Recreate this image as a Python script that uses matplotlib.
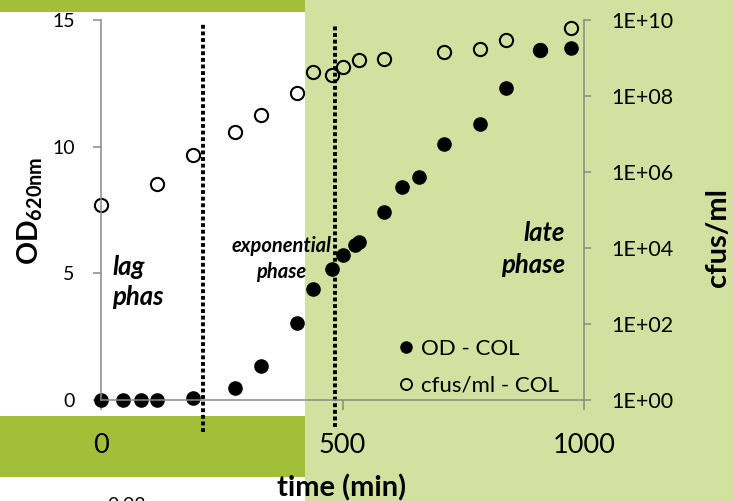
import numpy as np
import matplotlib
matplotlib.use("Agg")
import matplotlib.pyplot as plt
from matplotlib.patches import Rectangle
from matplotlib.lines import Line2D
from matplotlib.ticker import FuncFormatter, NullLocator

# ---- data ----
time_od = [0, 45, 83, 116, 190, 277, 331, 405, 438, 479, 500, 525, 535, 585, 624, 659, 711, 785, 839, 909, 973]
od_col = [0, 0, 0, 0, 0.08, 0.47, 1.34, 3.04, 4.38, 5.17, 5.72, 6.1, 6.22, 7.42, 8.4, 8.8, 10.1, 10.9, 12.3, 13.8, 13.9]

time_cfu = [0, 116, 190, 277, 331, 405, 438, 479, 500, 535, 585, 711, 785, 839, 909, 973]
cfu_col = [1.35e5, 4.8e5, 2.8e6, 1.1e7, 3.2e7, 1.2e8, 4.3e8, 3.5e8, 5.8e8, 8.9e8,
           9.3e8, 1.45e9, 1.7e9, 3.0e9, 1.6e9, 6.2e9]

phase_bounds = [211, 485]
x_ticks = [0, 500, 1000]
od_ticks = [0, 5, 10, 15]
cfu_ticks = [1e0, 1e2, 1e4, 1e6, 1e8, 1e10]
legend_labels = ["OD - COL", "cfus/ml - COL"]

plt.rcParams['font.family'] = ['Lato', 'DejaVu Sans']
plt.rcParams['mathtext.fontset'] = 'custom'
plt.rcParams['mathtext.rm'] = 'Lato'
plt.rcParams['mathtext.bf'] = 'Lato:bold'

W, H = 733, 501
fig = plt.figure(figsize=(W / 100, H / 100), dpi=100)


def fx(x):
    return x / W


def fy(y):
    return 1 - y / H


DARK = '#A3BF39'
LIGHT = '#D2E0A0'
GREY = '#898989'

fig.patches.extend([
    Rectangle((fx(305), 0), 1 - fx(305), 1, transform=fig.transFigure,
              facecolor=LIGHT, edgecolor='none', zorder=-10),
    Rectangle((0, fy(12)), fx(305), 12 / H, transform=fig.transFigure,
              facecolor=DARK, edgecolor='none', zorder=-10),
    Rectangle((0, fy(477)), fx(305), (477 - 416) / H, transform=fig.transFigure,
              facecolor=DARK, edgecolor='none', zorder=-10),
])

ax = fig.add_axes([fx(101), fy(400), fx(584) - fx(101), fy(20) - fy(400)])
ax2 = ax.twinx()
ax.patch.set_visible(False)
ax2.patch.set_visible(False)
ax.set_zorder(ax2.get_zorder() + 1)

# cfus on right log axis
ax2.plot(time_cfu, cfu_col, ls='none', marker='o', markersize=9.5,
         markerfacecolor='none', markeredgecolor='black', markeredgewidth=1.5, clip_on=False)
ax2.set_yscale('log')
ax2.set_ylim(1, 1e10)
ax2.set_yticks(cfu_ticks)
ax2.yaxis.set_minor_locator(NullLocator())
ax2.yaxis.set_major_formatter(FuncFormatter(lambda v, p: f"1E+{int(round(np.log10(v))):02d}"))

# OD on left axis
ax.plot(time_od, od_col, ls='none', marker='o', markersize=9.5,
        color='black', clip_on=False)
ax.set_xlim(0, 1000)
ax.set_ylim(0, 15)
ax.set_xticks(x_ticks)
ax.set_yticks(od_ticks)

for xb, (y0, y1) in zip(phase_bounds, [(-1.26, 14.9), (-1.07, 14.8)]):
    ax.plot([xb, xb], [y0, y1], color='black', lw=2.8, ls=(0, (1, 0.7)),
            dash_capstyle='butt', clip_on=False, zorder=2)

for s in ['top', 'right']:
    ax.spines[s].set_visible(False)
for s in ['left', 'bottom']:
    ax.spines[s].set_color(GREY)
    ax.spines[s].set_linewidth(1.1)
for s in ['top', 'left', 'bottom']:
    ax2.spines[s].set_visible(False)
ax2.spines['right'].set_color(GREY)
ax2.spines['right'].set_linewidth(1.1)

ax.tick_params(axis='x', direction='out', length=7, width=1.1, color=GREY,
               pad=16.5, labelsize=19.5)
ax.tick_params(axis='y', direction='out', length=6, width=1.1, color=GREY,
               pad=13, labelsize=14)
ax2.tick_params(axis='y', direction='out', length=5, width=1.1, color=GREY,
                pad=15, labelsize=15.5)

# axis titles
fig.text(fx(30), fy(211), r'$\mathbf{OD}_{\mathbf{620nm}}$', rotation=90,
         ha='center', va='center', fontsize=20.5)
fig.text(fx(718), fy(237), 'cfus/ml', rotation=90, ha='center', va='center',
         fontsize=21, fontweight='bold')
fig.text(fx(342), fy(488), 'time (min)', ha='center', va='center',
         fontsize=21, fontweight='bold')
fig.text(fx(127), fy(497), '0.02', ha='center', va='top', fontsize=14)

# phase annotations (behind markers)
tkw = dict(transform=fig.transFigure, fontweight='bold', style='italic', zorder=1)
ax.text(fx(112), fy(275), 'lag', ha='left', va='baseline', fontsize=18.5, **tkw)
ax.text(fx(112), fy(305), 'phas', ha='left', va='baseline', fontsize=18.5, **tkw)
ax.text(fx(281), fy(252), 'exponential', ha='center', va='baseline', fontsize=14.5, **tkw)
ax.text(fx(281), fy(278), 'phase', ha='center', va='baseline', fontsize=14.5, **tkw)
ax.text(fx(565), fy(241), 'late', ha='right', va='baseline', fontsize=18.5, **tkw)
ax.text(fx(565), fy(273), 'phase', ha='right', va='baseline', fontsize=18.5, **tkw)

handles = [
    Line2D([], [], ls='none', marker='o', color='black', markersize=8),
    Line2D([], [], ls='none', marker='o', markerfacecolor='none',
           markeredgecolor='black', markeredgewidth=1.3, markersize=8),
]
fs_leg = 16
hl = 0.75
ax.legend(handles, legend_labels, loc='center left',
          bbox_to_anchor=(fx(406 - hl * fs_leg * 100 / 72 / 2), fy(367)),
          bbox_transform=fig.transFigure,
          frameon=False, fontsize=fs_leg, handlelength=hl, handletextpad=0.3,
          labelspacing=0.75, borderpad=0, borderaxespad=0)

fig.savefig('out.png', dpi=100)
